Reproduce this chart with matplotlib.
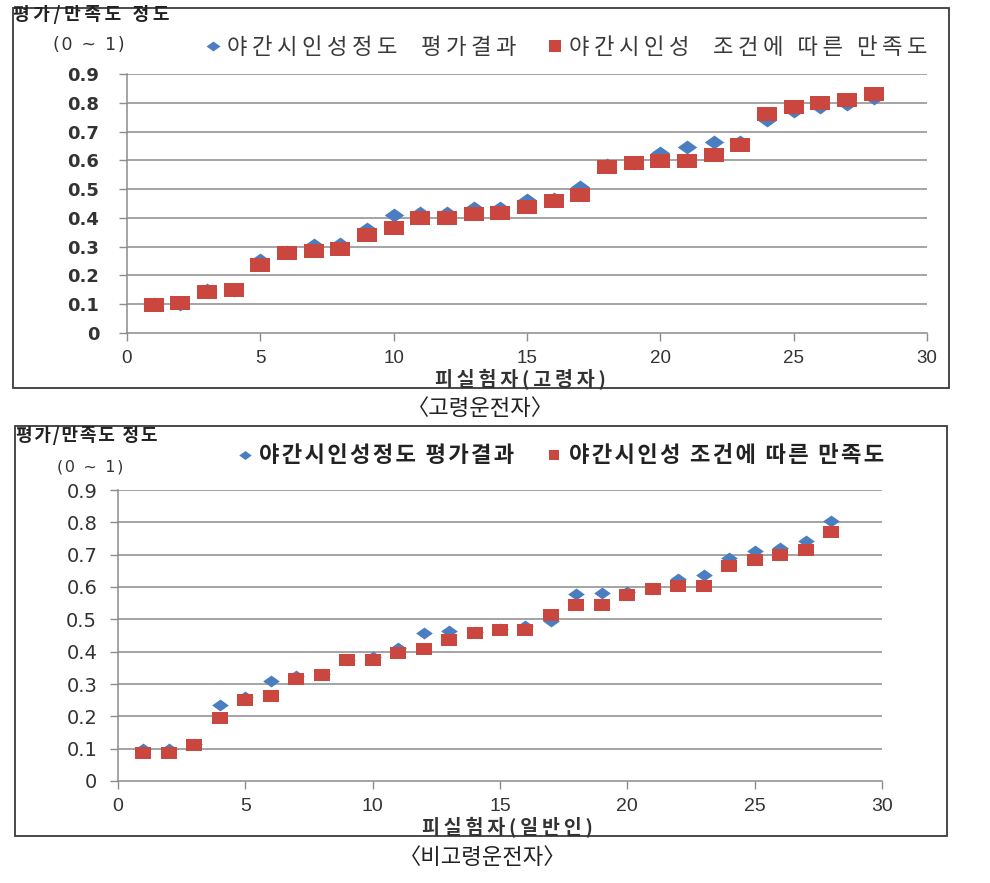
"""Night visibility evaluation vs. satisfaction, elderly and non-elderly drivers."""

import matplotlib

matplotlib.use("Agg")
import matplotlib.pyplot as plt
from matplotlib.patches import Rectangle

KR = ["Noto Sans CJK KR", "DejaVu Sans"]

subjects = list(range(1, 29))

# 고령운전자 (elderly drivers)
elderly_eval = [0.10, 0.10, 0.15, 0.15, 0.253, 0.28, 0.305, 0.31, 0.361, 0.41,
                0.416, 0.418, 0.433, 0.436, 0.462, 0.465, 0.509, 0.585, 0.59, 0.627,
                0.646, 0.665, 0.665, 0.741, 0.77, 0.785, 0.797, 0.815]
elderly_sat = [0.097, 0.105, 0.144, 0.149, 0.238, 0.277, 0.286, 0.292, 0.342, 0.366,
               0.399, 0.399, 0.413, 0.418, 0.438, 0.46, 0.48, 0.578, 0.59, 0.596,
               0.596, 0.619, 0.654, 0.76, 0.784, 0.799, 0.808, 0.83]

# 비고령운전자 (non-elderly drivers)
general_eval = [0.10, 0.10, 0.115, 0.236, 0.26, 0.308, 0.325, 0.33, 0.375, 0.385,
                0.41, 0.457, 0.464, 0.46, 0.47, 0.478, 0.496, 0.578, 0.58, 0.585,
                0.595, 0.626, 0.636, 0.691, 0.712, 0.72, 0.743, 0.804]
general_sat = [0.088, 0.088, 0.112, 0.195, 0.249, 0.264, 0.314, 0.327, 0.374, 0.374,
               0.396, 0.407, 0.435, 0.457, 0.466, 0.467, 0.512, 0.545, 0.545, 0.575,
               0.593, 0.603, 0.603, 0.665, 0.684, 0.70, 0.715, 0.769]

y_ticks = [0, 0.1, 0.2, 0.3, 0.4, 0.5, 0.6, 0.7, 0.8, 0.9]
y_tick_labels = ["0", "0.1", "0.2", "0.3", "0.4", "0.5", "0.6", "0.7", "0.8", "0.9"]
x_ticks = [0, 5, 10, 15, 20, 25, 30]

y_label = "평가/만족도 정도"
y_range = "(0 ~ 1)"
legend_eval = ["야간시인성정도  평가결과", "야간시인성정도 평가결과"]
legend_sat = ["야간시인성  조건에 따른 만족도", "야간시인성 조건에 따른 만족도"]
x_labels = ["피실험자(고령자)", "피실험자(일반인)"]
captions = ["〈고령운전자〉", "〈비고령운전자〉"]

BLUE = "#4A7EC0"
RED = "#C9473F"
GRID = "#8C8C8C"

W, H = 990, 883

# stretched markers (the original chart image is wider than tall)
SQUARE = [(-1.4, -1), (1.4, -1), (1.4, 1), (-1.4, 1), (-1.4, -1)]
DIAMOND = [(-1.4, 0), (0, 1), (1.4, 0), (0, -1), (-1.4, 0)]


def spaced(text, gap):
    return gap.join(text)


def fx(px):
    return px / W


def fy(py):
    return 1 - py / H


def draw_panel(fig, box, plot, eval_vals, sat_vals, idx, style):
    x0, y0, x1, y1 = box
    fig.patches.append(Rectangle((fx(x0), fy(y1)), fx(x1 - x0), (y1 - y0) / H,
                                 transform=fig.transFigure, fill=False,
                                 edgecolor="#3a3a3a", linewidth=1.3))
    left, top, right, bottom = plot
    ax = fig.add_axes([fx(left), fy(bottom), fx(right - left), (bottom - top) / H])

    ax.plot(subjects, eval_vals, linestyle="none", marker=DIAMOND,
            markersize=style["ms"], color=BLUE, markeredgewidth=0, zorder=3)
    ax.plot(subjects, sat_vals, linestyle="none", marker=SQUARE,
            markersize=style["ms"], color=RED, markeredgewidth=0, zorder=4)

    ax.set_xlim(0, 30)
    ax.set_ylim(0, 0.9)
    ax.set_xticks(x_ticks)
    ax.set_xticklabels([str(t) for t in x_ticks], family=style["xfont"],
                       fontsize=style["xsize"], color="#333333")
    ax.set_yticks(y_ticks)
    ax.set_yticklabels(y_tick_labels, family=style["yfont"], fontsize=style["ysize"],
                       fontweight=style["yweight"], color="#333333")
    ax.tick_params(axis="both", direction="out", length=6, color=GRID, width=1.0)
    ax.tick_params(axis="y", pad=style["ypad"])
    ax.tick_params(axis="x", pad=6)
    for t in y_ticks[1:]:
        ax.axhline(t, color=GRID, linewidth=1.1, zorder=1)
    for side in ("top", "right"):
        ax.spines[side].set_visible(False)
    for side in ("left", "bottom"):
        ax.spines[side].set_color(GRID)
        ax.spines[side].set_linewidth(1.1)

    fig.text(fx(style["ylab"][0]), fy(style["ylab"][1]), spaced(y_label, style["ygap"]),
             family=KR, fontsize=13, fontweight="bold", color="#222222", va="center")
    fig.text(fx(style["range"][0]), fy(style["range"][1]), spaced(y_range, "\u200a"),
             family=["DejaVu Sans"], fontsize=style["rsize"], color="#333333", va="center")

    h_eval, = ax.plot([], [], linestyle="none", marker=DIAMOND,
                      markersize=style["lms"], color=BLUE, markeredgewidth=0)
    h_sat, = ax.plot([], [], linestyle="none", marker="s",
                     markersize=style["lms"] * 0.85, color=RED, markeredgewidth=0)
    leg = ax.legend([h_eval, h_sat],
                    [spaced(legend_eval[idx], style["gap"]),
                     spaced(legend_sat[idx], style["gap"])],
                    loc="center left",
                    bbox_to_anchor=(fx(style["leg"][0]), fy(style["leg"][1])),
                    bbox_transform=fig.transFigure, ncol=2, frameon=False,
                    handlelength=0.7, handletextpad=0.3, columnspacing=style["colsp"],
                    borderpad=0, borderaxespad=0,
                    prop={"family": KR, "size": style["lsize"], "weight": style["lweight"]})
    for txt in leg.get_texts():
        txt.set_color(style["lcolor"])

    fig.text(fx(style["xlab"][0]), fy(style["xlab"][1]), spaced(x_labels[idx], "\u2009"),
             family=KR, fontsize=14, fontweight="bold", color="#333333",
             ha="center", va="center")
    fig.text(fx(style["cap"][0]), fy(style["cap"][1]), captions[idx], family=KR,
             fontsize=16, fontweight="light", color="#222222", ha="center", va="center")
    return ax


fig = plt.figure(figsize=(W / 100, H / 100), dpi=100)

draw_panel(fig, (13, 8, 949, 388), (127, 74, 927, 333), elderly_eval, elderly_sat, 0, {
    "ms": 14, "lms": 10, "xfont": ["Liberation Sans Narrow", "Liberation Sans"],
    "xsize": 13.5, "yfont": ["DejaVu Sans"], "ysize": 13, "yweight": "bold", "ypad": 14,
    "ylab": (13, 15), "ygap": "\u2009", "range": (53, 45), "rsize": 12.5,
    "leg": (205, 47), "gap": "\u2009",
    "lsize": 16, "lweight": "normal", "lcolor": "#3a3a3a", "colsp": 1.35,
    "xlab": (520, 380), "cap": (480, 408),
})

draw_panel(fig, (15, 426, 947, 836), (118, 490, 882, 781), general_eval, general_sat, 1, {
    "ms": 12, "lms": 9, "xfont": ["Liberation Sans Narrow", "Liberation Sans"],
    "xsize": 14, "yfont": ["DejaVu Sans"], "ysize": 14, "yweight": "normal",
    "ypad": 9, "ylab": (16, 435), "ygap": "\u200a", "range": (57, 467), "rsize": 11.5,
    "leg": (237, 456), "gap": "\u200a",
    "lsize": 16, "lweight": "bold", "lcolor": "#222222", "colsp": 1.45,
    "xlab": (507, 828), "cap": (483, 857),
})

fig.savefig("out.png", dpi=100)
